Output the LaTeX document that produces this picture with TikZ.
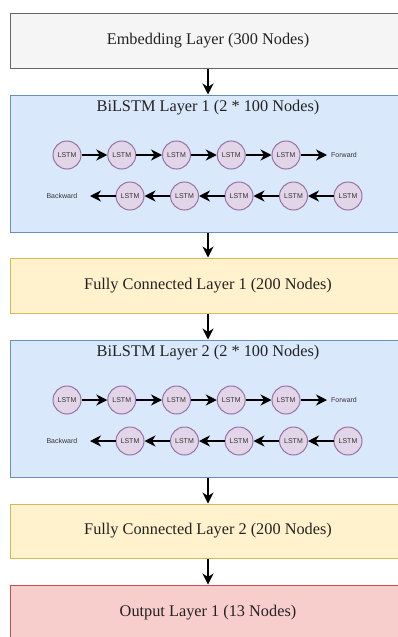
\documentclass[tikz,border=0pt]{standalone}
\usepackage{fontspec}
\setmainfont{Liberation Serif}
\newfontfamily\cellfont{Liberation Sans}
\usetikzlibrary{arrows.meta}

\definecolor{grayfill}{HTML}{F5F5F5}\definecolor{grayline}{HTML}{666666}
\definecolor{bluefill}{HTML}{DAE8FC}\definecolor{blueline}{HTML}{6C8EBF}
\definecolor{yellowfill}{HTML}{FFF2CC}\definecolor{yellowline}{HTML}{D6B656}
\definecolor{redfill}{HTML}{F8CECC}\definecolor{redline}{HTML}{B85450}
\definecolor{cellfill}{HTML}{E1D5E7}\definecolor{cellline}{HTML}{9673A6}
\definecolor{smalltext}{HTML}{333333}
\definecolor{titletext}{HTML}{222222}

\begin{document}
\begin{tikzpicture}[x=1pt,y=-1pt,
  layer/.style={draw, line width=1pt, minimum width=396pt, inner sep=0pt,
                font=\fontsize{16.3}{19}\selectfont, text=titletext},
  cell/.style={circle, draw=cellline, fill=cellfill, line width=1pt,
               minimum size=28pt, inner sep=0pt,
               font=\cellfont\fontsize{7}{8}\selectfont, text=smalltext},
  tag/.style={font=\cellfont\fontsize{7}{8}\selectfont, text=smalltext, inner sep=0pt},
  flow/.style={line width=1.3pt, -{Stealth[length=11pt,width=11pt,inset=3.5pt]}}
]
\useasboundingbox (0,0) rectangle (398,637);
\clip (0,0) rectangle (398,637);

% layer boxes
\node[layer, fill=grayfill, draw=grayline, minimum height=55pt] (emb) at (208,40.5) {Embedding Layer (300 Nodes)};
\node[layer, fill=bluefill, draw=blueline, minimum height=137pt] (bi1) at (208,163.5) {};
\node[layer, fill=yellowfill, draw=yellowline, minimum height=55pt] (fc1) at (208,285.5) {Fully Connected Layer 1 (200 Nodes)};
\node[layer, fill=bluefill, draw=blueline, minimum height=137pt] (bi2) at (208,408.5) {};
\node[layer, fill=yellowfill, draw=yellowline, minimum height=54pt] (fc2) at (208,531) {Fully Connected Layer 2 (200 Nodes)};
\node[layer, fill=redfill, draw=redline, minimum height=55pt] (out) at (208,612.5) {Output Layer 1 (13 Nodes)};

% titles of the recurrent layers
\node[font=\fontsize{16.3}{19}\selectfont, text=titletext] (t1) at (208,108) {BiLSTM Layer 1 (2 * 100 Nodes)};
\node[font=\fontsize{16.3}{19}\selectfont, text=titletext] (t2) at (208,353) {BiLSTM Layer 2 (2 * 100 Nodes)};

% LSTM cells for both layers
\foreach \L/\top in {a/95, b/340} {
  \foreach \i/\x in {1/67, 2/121.75, 3/176.5, 4/231.25, 5/286}
    \node[cell] (\L f\i) at (\x,\top+60) {LSTM};
  \foreach \i/\x in {1/130, 2/184.5, 3/239, 4/293.5, 5/348}
    \node[cell] (\L b\i) at (\x,\top+101) {LSTM};
  \coordinate (\L fend) at (327,\top+60);
  \coordinate (\L bend) at (90,\top+101);
  \node[tag, anchor=west] (\L fw) at (331,\top+60) {Forward};
  \node[tag, anchor=east] (\L bw) at (77.5,\top+101) {Backward};
  \draw[flow] (\L f1) -- (\L f2);
  \draw[flow] (\L f2) -- (\L f3);
  \draw[flow] (\L f3) -- (\L f4);
  \draw[flow] (\L f4) -- (\L f5);
  \draw[flow] (\L f5) -- (\L fend);
  \draw[flow] (\L b5) -- (\L b4);
  \draw[flow] (\L b4) -- (\L b3);
  \draw[flow] (\L b3) -- (\L b2);
  \draw[flow] (\L b2) -- (\L b1);
  \draw[flow] (\L b1) -- (\L bend);
}

% connections between layers
\draw[flow] (emb) -- (bi1);
\draw[flow] (bi1) -- (fc1);
\draw[flow] (fc1) -- (bi2);
\draw[flow] (bi2) -- (fc2);
\draw[flow] (fc2) -- (out);
\end{tikzpicture}
\end{document}
